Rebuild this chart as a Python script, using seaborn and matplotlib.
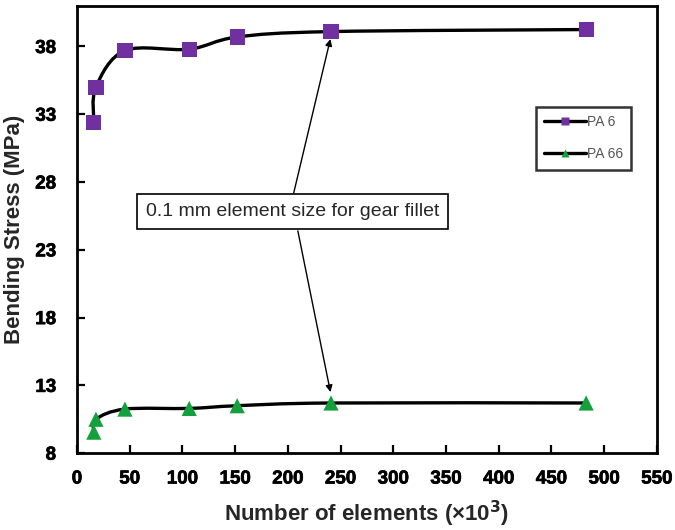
#!/usr/bin/env python3

# Bending stress vs. mesh size (number of elements)

import matplotlib
matplotlib.use("Agg")
import matplotlib.pyplot as plt
import matplotlib.patheffects as pe
import seaborn as sns
import pandas as pd
import numpy as np
from matplotlib.path import Path
from matplotlib.patches import PathPatch
from matplotlib.lines import Line2D

sns.set_theme(style="white")
plt.rcParams["font.family"] = ["Liberation Sans", "DejaVu Sans"]

elements = [16, 18, 45.5, 106.5, 152, 241, 483]          # x10^3
pa6 = [32.4, 35.0, 37.7, 37.8, 38.7, 39.1, 39.25]         # MPa
pa66 = [9.55, 10.5, 11.25, 11.3, 11.5, 11.7, 11.7]        # MPa

series_names = ["PA 6", "PA 66"]
colors = {"PA 6": "#7030A0", "PA 66": "#14A03C"}
markers = {"PA 6": "s", "PA 66": "^"}

xticks = list(range(0, 551, 50))
yticks = [8, 13, 18, 23, 28, 33, 38]

df = pd.concat([
    pd.DataFrame({"Elements": elements, "Stress": pa6, "Series": "PA 6"}),
    pd.DataFrame({"Elements": elements, "Stress": pa66, "Series": "PA 66"}),
])


def smooth_path(xs, ys):
    # Excel-style smoothed line: Catmull-Rom segments as cubic Bezier
    pts = np.column_stack([xs, ys])
    n = len(pts)
    verts = [pts[0]]
    codes = [Path.MOVETO]
    for i in range(n - 1):
        p0 = pts[max(i - 1, 0)]
        p1 = pts[i]
        p2 = pts[i + 1]
        p3 = pts[min(i + 2, n - 1)]
        c1 = p1 + (p2 - p0) / 6.0
        c2 = p2 - (p3 - p1) / 6.0
        verts += [c1, c2, p2]
        codes += [Path.CURVE4] * 3
    return Path(verts, codes)


def main():
    fig = plt.figure(figsize=(6.75, 5.3), dpi=100)
    ax = fig.add_axes([0.114, 0.145, 0.859, 0.844])

    for name in series_names:
        sub = df[df["Series"] == name]
        ax.add_patch(PathPatch(smooth_path(sub["Elements"].values, sub["Stress"].values),
                               facecolor="none", edgecolor="black", lw=2.4, zorder=2))

    sns.scatterplot(data=df, x="Elements", y="Stress", hue="Series", style="Series",
                    palette=colors, markers=markers, s=120, edgecolor="none",
                    legend=False, zorder=3, ax=ax)

    ax.set_xlim(0, 550)
    ax.set_ylim(8, 41)
    ax.set_xticks(xticks)
    ax.set_yticks(yticks)
    ax.tick_params(direction="in", length=6, width=1.6, colors="black",
                   bottom=True, left=True, labelsize=13.5)
    ax.tick_params(axis="x", pad=12.5)
    ax.tick_params(axis="y", pad=15)
    for sp in ax.spines.values():
        sp.set_linewidth(2)
        sp.set_color("black")

    ax.set_xlabel("Number of elements (×10$\\mathbf{^3}$)", fontsize=16, fontweight="bold")
    ax.set_ylabel("Bending Stress (MPa)", fontsize=16, fontweight="bold")
    ax.xaxis.set_label_coords(0.5, -0.103)
    ax.yaxis.set_label_coords(-0.09, 0.5)

    # annotation box with arrows to the chosen mesh
    ax.text(0.372, 0.540, "0.1 mm element size for gear fillet",
            transform=ax.transAxes, fontsize=14, va="center", ha="center",
            bbox=dict(boxstyle="square,pad=0.45", fc="white", ec="black", lw=1.2), zorder=4)
    ax.annotate("", xy=(elements[5], pa6[5] - 0.35), xytext=(205, 27.0),
                arrowprops=dict(arrowstyle="-|>", color="black", lw=1, mutation_scale=10), zorder=1)
    ax.annotate("", xy=(elements[5], pa66[5] + 0.6), xytext=(209, 24.6),
                arrowprops=dict(arrowstyle="-|>", color="black", lw=1, mutation_scale=10), zorder=1)

    handles = [Line2D([], [], color="black", lw=2.4, marker=markers[n], markersize=6,
                      markerfacecolor=colors[n], markeredgecolor="none") for n in series_names]
    leg = ax.legend(handles, series_names, loc="upper left", bbox_to_anchor=(0.791, 0.774),
                    frameon=True, fancybox=False, edgecolor="black", fontsize=10,
                    handlelength=3, labelspacing=1.3, borderpad=0.6, handletextpad=0.1,
                    borderaxespad=0)
    leg.get_frame().set_linewidth(1.8)
    for t in leg.get_texts():
        t.set_color("#555555")

    # heavy tick labels (set after a draw so every tick object exists)
    fig.canvas.draw()
    for axis in (ax.xaxis, ax.yaxis):
        for tick in axis.get_major_ticks():
            tick.label1.set_fontweight("bold")
            tick.label1.set_path_effects([pe.withStroke(linewidth=0.5, foreground="black")])

    plt.savefig("out.png", dpi=100)


if __name__ == "__main__":
    main()
